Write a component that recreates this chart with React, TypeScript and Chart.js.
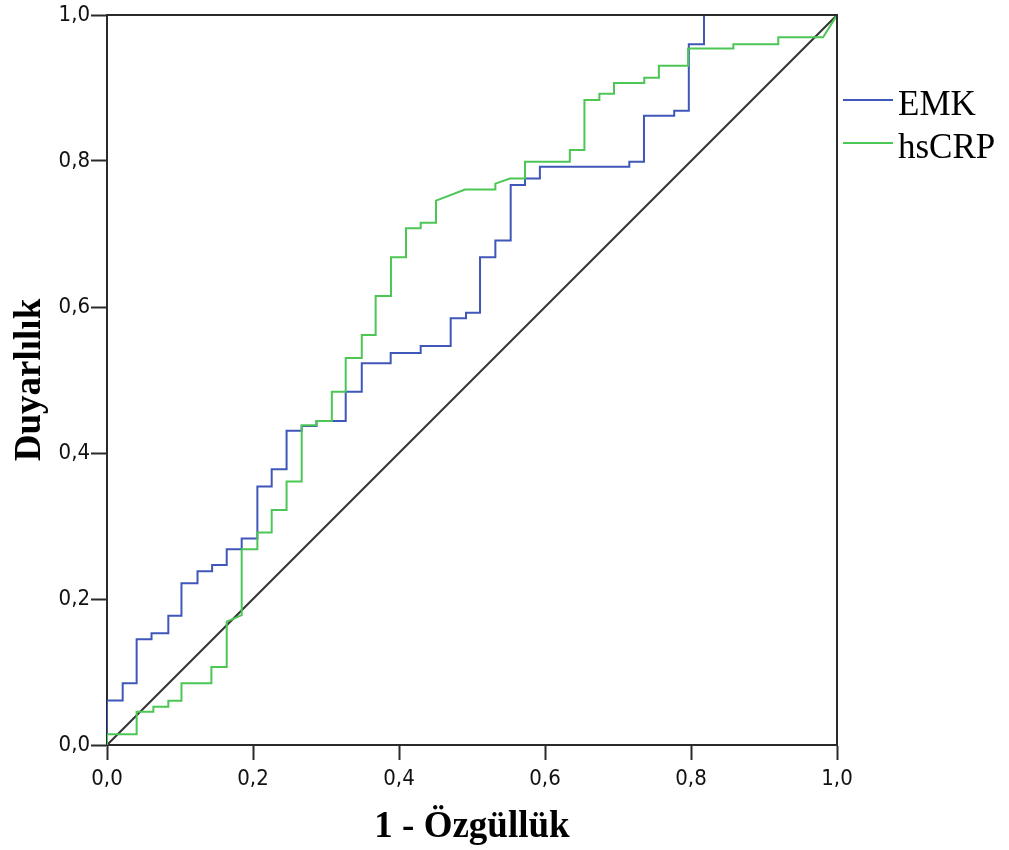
import React, { useEffect, useRef } from "react";
import { Chart, registerables } from "chart.js";

Chart.register(...registerables);

// ROC curve vertices (1 - specificity, sensitivity)
const emkX = [0, 0, 0.0215, 0.0215, 0.0406, 0.0406, 0.061, 0.061, 0.084, 0.084, 0.102, 0.102, 0.124, 0.124, 0.144, 0.144, 0.164, 0.164, 0.1845, 0.1845, 0.206, 0.206, 0.2256, 0.2256, 0.246, 0.246, 0.2667, 0.2667, 0.287, 0.287, 0.327, 0.327, 0.349, 0.349, 0.3886, 0.3886, 0.4297, 0.4297, 0.4708, 0.4708, 0.4918, 0.4918, 0.511, 0.511, 0.532, 0.532, 0.553, 0.553, 0.5726, 0.5726, 0.593, 0.593, 0.7155, 0.7155, 0.7356, 0.7356, 0.777, 0.777, 0.797, 0.797, 0.8178, 0.8178, 1];
const emkY = [0, 0.061, 0.061, 0.0845, 0.0845, 0.145, 0.145, 0.153, 0.153, 0.177, 0.177, 0.2215, 0.2215, 0.238, 0.238, 0.2466, 0.2466, 0.268, 0.268, 0.283, 0.283, 0.354, 0.354, 0.3777, 0.3777, 0.4306, 0.4306, 0.437, 0.437, 0.444, 0.444, 0.484, 0.484, 0.523, 0.523, 0.537, 0.537, 0.5466, 0.5466, 0.5845, 0.5845, 0.592, 0.592, 0.668, 0.668, 0.691, 0.691, 0.767, 0.767, 0.776, 0.776, 0.792, 0.792, 0.799, 0.799, 0.862, 0.862, 0.869, 0.869, 0.96, 0.96, 1, 1];

const crpX = [0, 0, 0.0406, 0.0406, 0.0635, 0.0635, 0.084, 0.084, 0.102, 0.102, 0.143, 0.143, 0.164, 0.164, 0.1845, 0.1845, 0.206, 0.206, 0.2256, 0.2256, 0.246, 0.246, 0.2667, 0.2667, 0.287, 0.287, 0.308, 0.308, 0.327, 0.327, 0.349, 0.349, 0.368, 0.368, 0.389, 0.389, 0.4096, 0.4096, 0.4297, 0.4297, 0.4507, 0.4507, 0.4904, 0.532, 0.532, 0.552, 0.5726, 0.5726, 0.634, 0.634, 0.654, 0.654, 0.6745, 0.6745, 0.6945, 0.6945, 0.736, 0.736, 0.756, 0.756, 0.796, 0.796, 0.858, 0.858, 0.9196, 0.9196, 0.981, 1];
const crpY = [0, 0.0146, 0.0146, 0.0457, 0.0457, 0.0525, 0.0525, 0.0607, 0.0607, 0.0845, 0.0845, 0.107, 0.107, 0.169, 0.178, 0.268, 0.268, 0.291, 0.291, 0.322, 0.322, 0.361, 0.361, 0.438, 0.438, 0.444, 0.444, 0.484, 0.484, 0.53, 0.53, 0.5616, 0.5616, 0.615, 0.615, 0.668, 0.668, 0.708, 0.708, 0.7155, 0.7155, 0.7457, 0.761, 0.761, 0.769, 0.776, 0.776, 0.799, 0.799, 0.815, 0.815, 0.8836, 0.8836, 0.892, 0.892, 0.907, 0.907, 0.914, 0.914, 0.9306, 0.9306, 0.954, 0.954, 0.96, 0.96, 0.9695, 0.9695, 1];

const refX = [0, 1];
const refY = [0, 1];

const seriesNames = ["EMK", "hsCRP"];
const seriesColors = ["#3f57b8", "#4cc655"];

const xTickLabels = ["0,0", "0,2", "0,4", "0,6", "0,8", "1,0"];
const yTickLabels = ["0,0", "0,2", "0,4", "0,6", "0,8", "1,0"];

const xTitle = "1 - Özgüllük";
const yTitle = "Duyarlılık";

const toPoints = (xs: number[], ys: number[]) => xs.map((x, i) => ({ x, y: ys[i] }));

const framePlugin = {
  id: "frame",
  afterDatasetsDraw(chart: any) {
    const { ctx, chartArea } = chart;
    ctx.save();
    ctx.strokeStyle = "#2a2a2a";
    ctx.lineWidth = 2;
    ctx.beginPath();
    ctx.moveTo(chartArea.left, chartArea.top);
    ctx.lineTo(chartArea.right, chartArea.top);
    ctx.lineTo(chartArea.right, chartArea.bottom);
    ctx.stroke();
    ctx.restore();
  },
};

const legendPlugin = {
  id: "rightLegend",
  afterDraw(chart: any) {
    const { ctx, chartArea } = chart;
    ctx.save();
    const x0 = chartArea.right + 6;
    const lineLen = 50;
    const rowY = [100, 143];
    seriesNames.forEach((name, i) => {
      const y = rowY[i];
      ctx.strokeStyle = seriesColors[i];
      ctx.lineWidth = 2;
      ctx.beginPath();
      ctx.moveTo(x0, y);
      ctx.lineTo(x0 + lineLen, y);
      ctx.stroke();
      ctx.fillStyle = "#000";
      ctx.font = "35px 'Liberation Serif', 'Times New Roman', serif";
      ctx.textAlign = "left";
      ctx.textBaseline = "alphabetic";
      ctx.fillText(name, x0 + lineLen + 5, y + 15);
    });
    ctx.restore();
  },
};

export default function App() {
  const canvasRef = useRef<HTMLCanvasElement | null>(null);

  useEffect(() => {
    if (!canvasRef.current) return;
    const tickFont = { family: "'DejaVu Sans Condensed', 'Liberation Sans', sans-serif", size: 22 };
    const titleFont = { family: "'Liberation Serif', 'Times New Roman', serif", size: 37, weight: "bold" as const };
    const chart = new Chart(canvasRef.current, {
      type: "scatter",
      data: {
        datasets: [
          {
            label: "ref",
            data: toPoints(refX, refY),
            showLine: true,
            borderColor: "#333333",
            borderWidth: 2,
            pointRadius: 0,
            order: 3,
          },
          {
            label: seriesNames[0],
            data: toPoints(emkX, emkY),
            showLine: true,
            borderColor: seriesColors[0],
            borderWidth: 2,
            pointRadius: 0,
            order: 2,
          },
          {
            label: seriesNames[1],
            data: toPoints(crpX, crpY),
            showLine: true,
            borderColor: seriesColors[1],
            borderWidth: 2,
            pointRadius: 0,
            order: 1,
          },
        ],
      },
      options: {
        animation: false,
        responsive: true,
        maintainAspectRatio: false,
        layout: { padding: { top: 15, right: 172, bottom: 0, left: 0 } },
        plugins: {
          legend: { display: false },
          tooltip: { enabled: false },
        },
        scales: {
          x: {
            type: "linear",
            min: 0,
            max: 1,
            afterFit: (s: any) => {
              s.height = 105;
            },
            ticks: {
              stepSize: 0.2,
              color: "#111",
              font: tickFont,
              padding: 6,
              maxRotation: 0,
              callback: (_v: any, i: number) => xTickLabels[i],
            },
            grid: {
              display: true,
              drawOnChartArea: false,
              drawTicks: true,
              tickLength: 15,
              tickWidth: 2,
              tickColor: "#2a2a2a",
            },
            border: { display: true, color: "#2a2a2a", width: 2 },
            title: {
              display: true,
              text: xTitle,
              color: "#000",
              font: titleFont,
              padding: { top: 0, bottom: 0 },
            },
          },
          y: {
            type: "linear",
            min: 0,
            max: 1,
            afterFit: (s: any) => {
              s.width = 107;
            },
            ticks: {
              stepSize: 0.2,
              color: "#111",
              font: tickFont,
              padding: 1,
              callback: (_v: any, i: number) => yTickLabels[i],
            },
            grid: {
              display: true,
              drawOnChartArea: false,
              drawTicks: true,
              tickLength: 16,
              tickWidth: 2,
              tickColor: "#2a2a2a",
            },
            border: { display: true, color: "#2a2a2a", width: 2 },
            title: {
              display: true,
              text: yTitle,
              color: "#000",
              font: titleFont,
              padding: { top: 8, bottom: 0 },
            },
          },
        },
      },
      plugins: [framePlugin, legendPlugin],
    });
    return () => chart.destroy();
  }, []);

  return (
    <div style={{ position: "fixed", left: 0, top: 0, width: 1009, height: 850, background: "#fff" }}>
      <canvas ref={canvasRef} />
    </div>
  );
}
